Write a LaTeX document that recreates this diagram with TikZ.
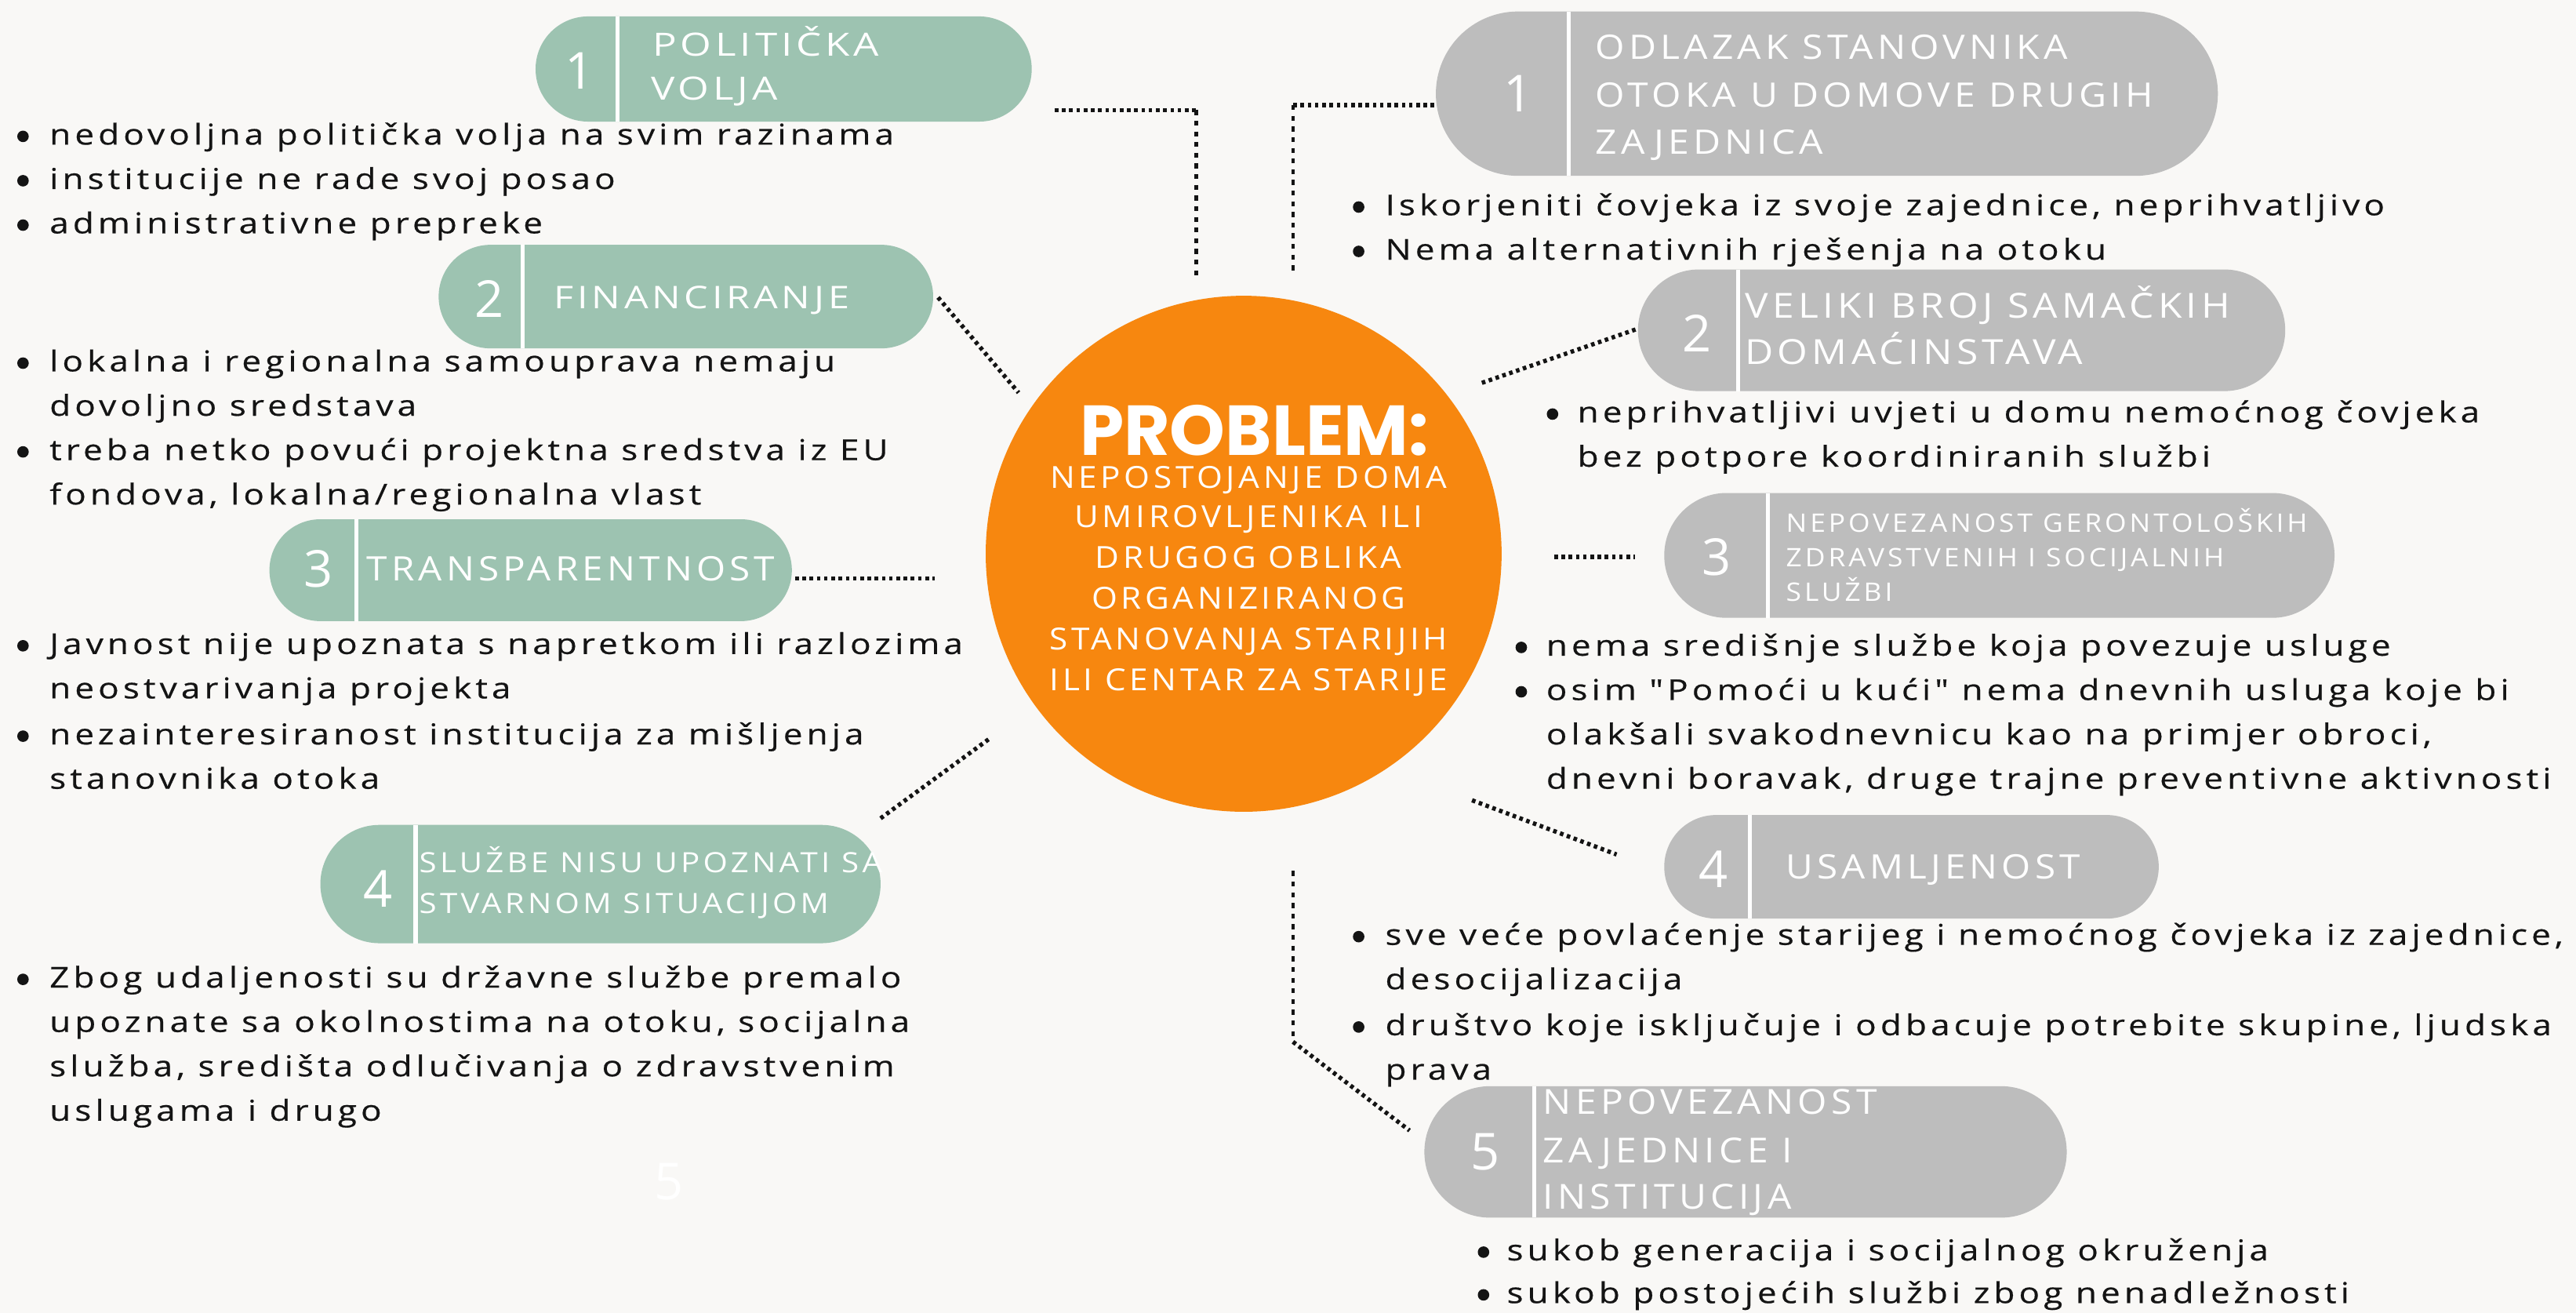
\documentclass[tikz,border=0pt]{standalone}
\usepackage{fontspec}
\setmainfont{Open Sans}
\newfontfamily\bodyf{Open Sans}[LetterSpace=14,FakeStretch=1.2,FakeBold=0.5]
\newfontfamily\titf{Open Sans}[LetterSpace=12]
\newfontfamily\subf{Open Sans}[LetterSpace=12,FakeStretch=1.09]
\newfontfamily\numf{Open Sans}
\newfontfamily\probf{Poppins}
\usetikzlibrary{shapes.misc}
\definecolor{bg}{HTML}{F9F8F6}
\definecolor{sage}{HTML}{9DC3B1}
\definecolor{grayp}{HTML}{BDBDBD}
\definecolor{orng}{HTML}{F7870F}
\definecolor{ink}{HTML}{141414}
\newcommand\bl[4]{\node[bt] (#1) at (#2,#3) {#4};}
\newcommand\bd[3]{\node[bdot] (#1) at (#2,#3-5) {};}
% name, x, baseline y, size, stretch, text
\newcommand\tl[6]{\node[tt, font=\titf\fontsize{#4}{#4}\selectfont\addfontfeatures{FakeStretch=#5}] (#1) at (#2,#3) {#6};}
\begin{document}
\begin{tikzpicture}[x=1pt,y=-1pt,
  bt/.style={font=\bodyf\fontsize{17.5}{27}\selectfont, text=ink, inner sep=0pt, anchor=base west},
  bdot/.style={circle, fill=ink, minimum size=7pt, inner sep=0pt},
  tt/.style={text=white, inner sep=0pt, anchor=base west},
  numt/.style={text=white, inner sep=0pt, font=\numf\fontsize{31}{31}\selectfont},
  pill/.style={rounded rectangle, inner sep=0pt},
  divl/.style={white, line width=2.5pt},
  dotl/.style={ink, line width=2.6pt, dash pattern=on 2.2pt off 2.2pt},
  dotv/.style={ink, line width=2.2pt, dash pattern=on 3pt off 3.5pt},
  sub/.style={text=white, inner sep=0pt, anchor=base, font=\subf\fontsize{18.5}{18.5}\selectfont}
]
\useasboundingbox (0,0) rectangle (1568,799);
\fill[bg] (0,0) rectangle (1568,799);

% ---------- centre ----------
\node[circle, fill=orng, minimum size=314pt, inner sep=0pt] (ctr) at (757,337) {};
\node[text=white, inner sep=0pt, anchor=base, font=\probf\bfseries\fontsize{43}{43}\selectfont] (prob) at (763.5,277) {PROBLEM:};
\node[sub] (s1) at (760,297) {NEPOSTOJANJE DOMA};
\node[sub] (s2) at (760,321) {UMIROVLJENIKA ILI};
\node[sub] (s3) at (760,345.7) {DRUGOG OBLIKA};
\node[sub] (s4) at (760,370.5) {ORGANIZIRANOG};
\node[sub] (s5) at (760,395.3) {STANOVANJA STARIJIH};
\node[sub] (s6) at (760,420.2) {ILI CENTAR ZA STARIJE};

% ---------- left pills ----------
\node[pill, fill=sage, minimum width=302pt, minimum height=64pt] (L1) at (477,42) {};
\draw[divl] (376,10) -- (376,74);
\node[numt] (n1) at (353,43) {1};
\tl{t1a}{397}{34}{19.5}{1.25}{ POLITIČKA}
\tl{t1b}{396}{61}{19.5}{1.25}{VOLJA}

\node[pill, fill=sage, minimum width=301pt, minimum height=63pt] (L2) at (417.5,180.5) {};
\draw[divl] (318,149) -- (318,212);
\node[numt] (n2) at (298,182) {2};
\tl{t2a}{337}{188}{19}{1.22}{FINANCIRANJE}

\node[pill, fill=sage, minimum width=318pt, minimum height=62pt] (L3) at (323,347) {};
\draw[divl] (217,316) -- (217,378);
\node[numt] (n3) at (194,346) {3};
\tl{t3a}{223}{353.5}{20.5}{1.11}{TRANSPARENTNOST}

\node[pill, fill=sage, minimum width=341pt, minimum height=72pt] (L4) at (365.5,538) {};
\draw[divl] (253,502) -- (253,574);
\node[numt] (n4) at (230,541) {4};
\tl{t4a}{255}{531}{17}{1.13}{SLUŽBE NISU UPOZNATI SA}
\tl{t4b}{255}{556}{17}{1.13}{STVARNOM SITUACIJOM}

\node[numt, text=white] (n5ghost) at (407,719) {5};

% ---------- right pills ----------
\node[pill, fill=grayp, minimum width=476pt, minimum height=100pt] (R1) at (1112,57) {};
\draw[divl] (955,7) -- (955,107);
\node[numt] (m1) at (924,57) {1};
\tl{u1a}{971}{36}{20.5}{1.12}{ODLAZAK STANOVNIKA}
\tl{u1b}{971}{65}{20.5}{1.12}{OTOKA U DOMOVE DRUGIH}
\tl{u1c}{971}{94}{20.5}{1.12}{ZAJEDNICA}

\node[pill, fill=grayp, minimum width=394pt, minimum height=74pt] (R2) at (1194,201) {};
\draw[divl] (1058,164) -- (1058,238);
\node[numt] (m2) at (1033,203) {2};
\tl{u2a}{1062}{193.5}{21}{1.13}{VELIKI BROJ SAMAČKIH}
\tl{u2b}{1062}{221.5}{21}{1.13}{DOMAĆINSTAVA}

\node[pill, fill=grayp, minimum width=408pt, minimum height=76pt] (R3) at (1217,338) {};
\draw[divl] (1076,300) -- (1076,376);
\node[numt] (m3) at (1045,339) {3};
\tl{u3a}{1087}{324}{15.5}{1.09}{NEPOVEZANOST GERONTOLOŠKIH}
\tl{u3b}{1087}{345}{15.5}{1.09}{ZDRAVSTVENIH I SOCIJALNIH}
\tl{u3c}{1087}{366}{15.5}{1.09}{SLUŽBI}

\node[pill, fill=grayp, minimum width=301pt, minimum height=63pt] (R4) at (1163.5,527.5) {};
\draw[divl] (1065,496) -- (1065,559);
\node[numt] (m4) at (1043,529) {4};
\tl{u4a}{1087}{535}{20.5}{1.11}{USAMLJENOST}

\node[pill, fill=grayp, minimum width=391pt, minimum height=80pt] (R5) at (1062.5,701) {};
\draw[divl] (934,661) -- (934,741);
\node[numt] (m5) at (904,701) {5};
\tl{u5a}{939}{678}{21}{1.09}{NEPOVEZANOST}
\tl{u5b}{939}{707.5}{21}{1.09}{ZAJEDNICE I}
\tl{u5c}{939}{736}{21}{1.09}{INSTITUCIJA}

% ---------- left bullets ----------
\bd{d1a}{14}{88}\bl{b1a}{30}{88}{nedovoljna politička volja na svim razinama}
\bd{d1b}{14}{115}\bl{b1b}{30}{115}{institucije ne rade svoj posao}
\bd{d1c}{14}{142}\bl{b1c}{30}{142}{administrativne prepreke}

\bd{d2a}{14}{226}\bl{b2a}{30}{226}{lokalna i regionalna samouprava nemaju}
\bl{b2b}{30}{253}{dovoljno sredstava}
\bd{d2c}{14}{280}\bl{b2c}{30}{280}{treba netko povući projektna sredstva iz EU}
\bl{b2d}{30}{307}{fondova, lokalna/regionalna vlast}

\bd{d3a}{14}{398}\bl{b3a}{30}{398}{Javnost nije upoznata s napretkom ili razlozima}
\bl{b3b}{30}{425}{neostvarivanja projekta}
\bd{d3c}{14}{453}\bl{b3c}{30}{453}{nezainteresiranost institucija za mišljenja}
\bl{b3d}{30}{480}{stanovnika otoka}

\bd{d4a}{14}{601}\bl{b4a}{30}{601}{Zbog udaljenosti su državne službe premalo}
\bl{b4b}{30}{628}{upoznate sa okolnostima na otoku, socijalna}
\bl{b4c}{30}{655}{služba, središta odlučivanja o zdravstvenim}
\bl{b4d}{30}{682}{uslugama i drugo}

% ---------- right bullets ----------
\bd{e1a}{827}{131}\bl{c1a}{843}{131}{Iskorjeniti čovjeka iz svoje zajednice, neprihvatljivo}
\bd{e1b}{827}{158}\bl{c1b}{843}{158}{Nema alternativnih rješenja na otoku}

\bd{e2a}{945}{257}\bl{c2a}{960}{257}{neprihvatljivi uvjeti u domu nemoćnog čovjeka}
\bl{c2b}{960}{284}{bez potpore koordiniranih službi}

\bd{e3a}{926}{399}\bl{c3a}{941}{399}{nema središnje službe koja povezuje usluge}
\bd{e3b}{926}{426}\bl{c3b}{941}{426}{osim "Pomoći u kući" nema dnevnih usluga koje bi}
\bl{c3c}{941}{453}{olakšali svakodnevnicu kao na primjer obroci,}
\bl{c3d}{941}{480}{dnevni boravak, druge trajne preventivne aktivnosti}

\bd{e4a}{827}{575}\bl{c4a}{843}{575}{sve veće povlaćenje starijeg i nemoćnog čovjeka iz zajednice,}
\bl{c4b}{843}{602}{desocijalizacija}
\bd{e4c}{827}{630}\bl{c4c}{843}{630}{društvo koje isključuje i odbacuje potrebite skupine, ljudska}
\bl{c4d}{843}{657}{prava}

\bd{e5a}{903}{767}\bl{c5a}{917}{767}{sukob generacija i socijalnog okruženja}
\bd{e5b}{903}{793}\bl{c5b}{917}{793}{sukob postojećih službi zbog nenadležnosti}

% ---------- connectors ----------
\coordinate (k1s) at (642,67); \coordinate (k1m) at (728,67); \coordinate (k1e) at (728,170);
\draw[dotl] (k1s) -- (k1m);
\draw[dotv] (k1m) -- (k1e);
\coordinate (k2s) at (571,181); \coordinate (k2e) at (620,239);
\draw[dotl] (k2s) -- (k2e);
\coordinate (k3s) at (484,352); \coordinate (k3e) at (569,352);
\draw[dotl] (k3s) -- (k3e);
\coordinate (k4s) at (536,498); \coordinate (k4e) at (603,449);
\draw[dotl] (k4s) -- (k4e);

\coordinate (r1s) at (873,64); \coordinate (r1m) at (787,64); \coordinate (r1e) at (787,166);
\draw[dotl] (r1s) -- (r1m);
\draw[dotv] (r1m) -- (r1e);
\coordinate (r2s) at (902,233); \coordinate (r2e) at (997,200);
\draw[dotl] (r2s) -- (r2e);
\coordinate (r3s) at (946,339); \coordinate (r3e) at (995,339);
\draw[dotl] (r3s) -- (r3e);
\coordinate (r4s) at (896,487); \coordinate (r4e) at (984,520);
\draw[dotl] (r4s) -- (r4e);
\coordinate (r5s) at (787,530); \coordinate (r5m) at (787,634); \coordinate (r5e) at (858,688);
\draw[dotv] (r5s) -- (r5m);
\draw[dotl] (r5m) -- (r5e);
\end{tikzpicture}
\end{document}
